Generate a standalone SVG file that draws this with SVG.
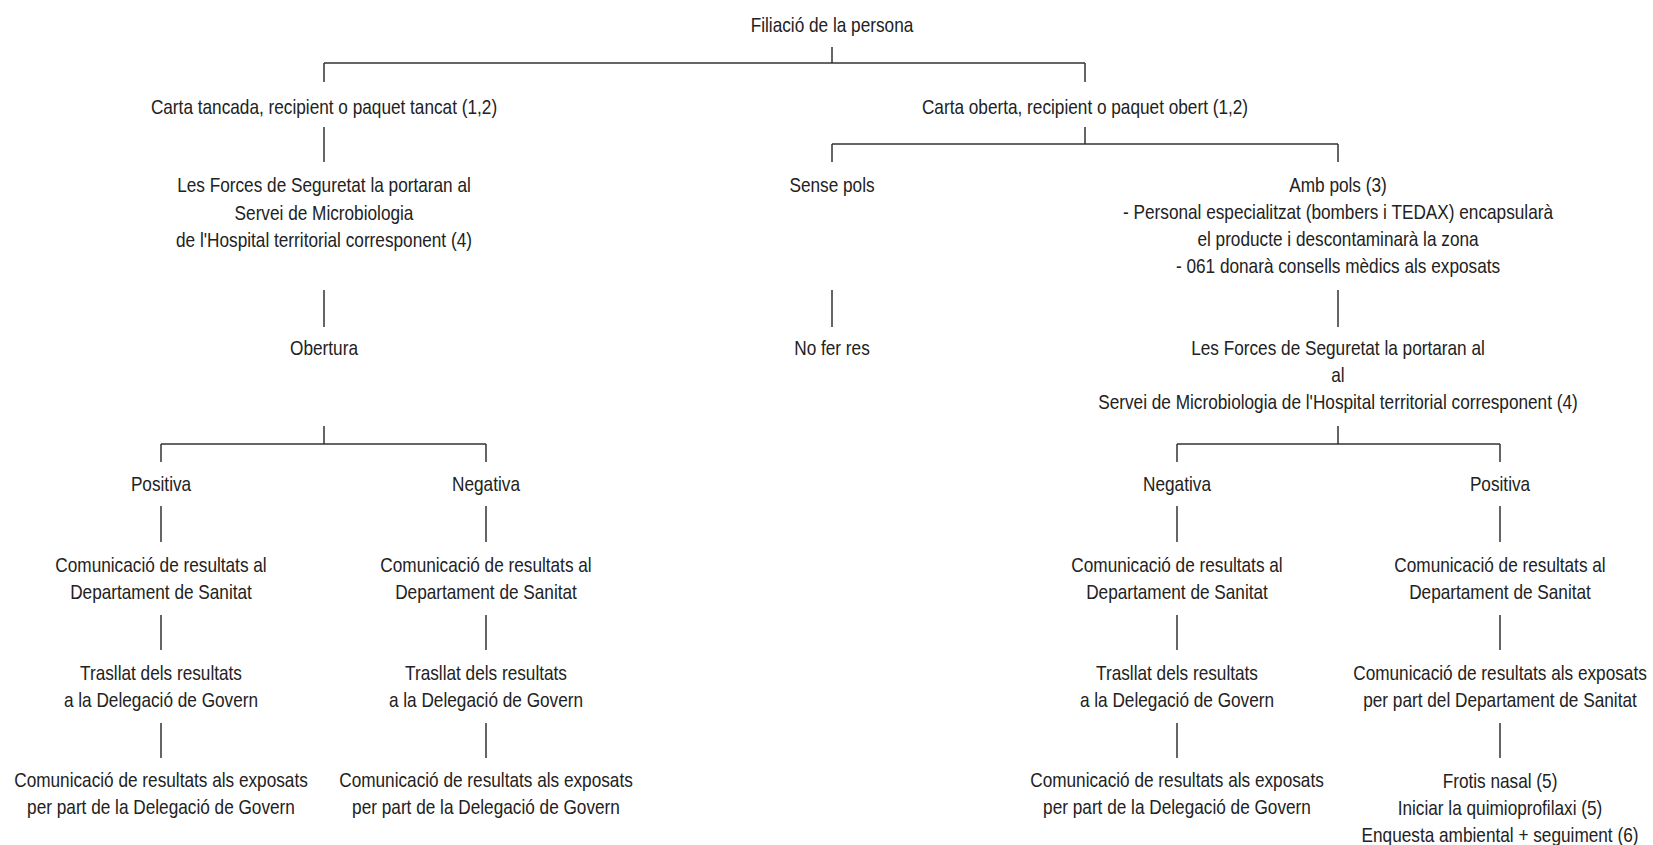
<svg xmlns="http://www.w3.org/2000/svg" width="1653" height="845" viewBox="0 0 1653 845">
<style>
text{font-family:"Liberation Sans",Arial,sans-serif;font-size:21px;fill:#222;text-anchor:middle}
.c path{stroke:#333;stroke-width:1.5;fill:none}
</style>
<rect width="1653" height="845" fill="#fff"/>
<g class="c" id="connectors">
<path d="M832 47V63M324 63H1085M324 63V82M1085 63V82"/>
<path d="M324 127V162"/>
<path d="M1085 127V144M832 144H1338M832 144V162M1338 144V162"/>
<path d="M324 290V327M832 290V327M1338 290V327"/>
<path d="M324 426V444M161 444H486M161 444V462M486 444V462"/>
<path d="M1338 426V444M1177 444H1500M1177 444V462M1500 444V462"/>
<path d="M161 506V542M486 506V542M1177 506V542M1500 506V542"/>
<path d="M161 615V650M486 615V650M1177 615V650M1500 615V650"/>
<path d="M161 723V758M486 723V758M1177 723V758M1500 723V758"/>
</g>
<g id="n1"><text transform="translate(832 32) scale(0.82 1)">Filiació de la persona</text></g>
<g id="n2"><text transform="translate(324 114) scale(0.82 1)">Carta tancada, recipient o paquet tancat (1,2)</text></g>
<g id="n3"><text transform="translate(1085 114) scale(0.82 1)">Carta oberta, recipient o paquet obert (1,2)</text></g>
<g id="n4"><text transform="translate(324 192) scale(0.82 1)">Les Forces de Seguretat la portaran al</text><text transform="translate(324 219.5) scale(0.82 1)">Servei de Microbiologia</text><text transform="translate(324 247) scale(0.82 1)">de l'Hospital territorial corresponent (4)</text></g>
<g id="n5"><text transform="translate(832 192) scale(0.82 1)">Sense pols</text></g>
<g id="n6"><text transform="translate(1338 192) scale(0.82 1)">Amb pols (3)</text><text transform="translate(1338 219) scale(0.82 1)">- Personal especialitzat (bombers i TEDAX) encapsularà</text><text transform="translate(1338 246) scale(0.82 1)">el producte i descontaminarà la zona</text><text transform="translate(1338 273) scale(0.82 1)">- 061 donarà consells mèdics als exposats</text></g>
<g id="n7"><text transform="translate(324 355) scale(0.82 1)">Obertura</text></g>
<g id="n8"><text transform="translate(832 355) scale(0.82 1)">No fer res</text></g>
<g id="n9"><text transform="translate(1338 355) scale(0.82 1)">Les Forces de Seguretat la portaran al</text><text transform="translate(1338 382) scale(0.82 1)">al</text><text transform="translate(1338 409) scale(0.82 1)">Servei de Microbiologia de l'Hospital territorial corresponent (4)</text></g>
<g id="n10"><text transform="translate(161 491) scale(0.82 1)">Positiva</text></g>
<g id="n11"><text transform="translate(486 491) scale(0.82 1)">Negativa</text></g>
<g id="n12"><text transform="translate(1177 491) scale(0.82 1)">Negativa</text></g>
<g id="n13"><text transform="translate(1500 491) scale(0.82 1)">Positiva</text></g>
<g id="n14"><text transform="translate(161 572) scale(0.82 1)">Comunicació de resultats al</text><text transform="translate(161 599) scale(0.82 1)">Departament de Sanitat</text></g>
<g id="n15"><text transform="translate(486 572) scale(0.82 1)">Comunicació de resultats al</text><text transform="translate(486 599) scale(0.82 1)">Departament de Sanitat</text></g>
<g id="n16"><text transform="translate(1177 572) scale(0.82 1)">Comunicació de resultats al</text><text transform="translate(1177 599) scale(0.82 1)">Departament de Sanitat</text></g>
<g id="n17"><text transform="translate(1500 572) scale(0.82 1)">Comunicació de resultats al</text><text transform="translate(1500 599) scale(0.82 1)">Departament de Sanitat</text></g>
<g id="n18"><text transform="translate(161 680) scale(0.82 1)">Trasllat dels resultats</text><text transform="translate(161 707) scale(0.82 1)">a la Delegació de Govern</text></g>
<g id="n19"><text transform="translate(486 680) scale(0.82 1)">Trasllat dels resultats</text><text transform="translate(486 707) scale(0.82 1)">a la Delegació de Govern</text></g>
<g id="n20"><text transform="translate(1177 680) scale(0.82 1)">Trasllat dels resultats</text><text transform="translate(1177 707) scale(0.82 1)">a la Delegació de Govern</text></g>
<g id="n21"><text transform="translate(1500 680) scale(0.82 1)">Comunicació de resultats als exposats</text><text transform="translate(1500 707) scale(0.82 1)">per part del Departament de Sanitat</text></g>
<g id="n22"><text transform="translate(161 787) scale(0.82 1)">Comunicació de resultats als exposats</text><text transform="translate(161 814) scale(0.82 1)">per part de la Delegació de Govern</text></g>
<g id="n23"><text transform="translate(486 787) scale(0.82 1)">Comunicació de resultats als exposats</text><text transform="translate(486 814) scale(0.82 1)">per part de la Delegació de Govern</text></g>
<g id="n24"><text transform="translate(1177 787) scale(0.82 1)">Comunicació de resultats als exposats</text><text transform="translate(1177 814) scale(0.82 1)">per part de la Delegació de Govern</text></g>
<g id="n25"><text transform="translate(1500 788) scale(0.82 1)">Frotis nasal (5)</text><text transform="translate(1500 815) scale(0.82 1)">Iniciar la quimioprofilaxi (5)</text><text transform="translate(1500 842) scale(0.82 1)">Enquesta ambiental + seguiment (6)</text></g>
</svg>
